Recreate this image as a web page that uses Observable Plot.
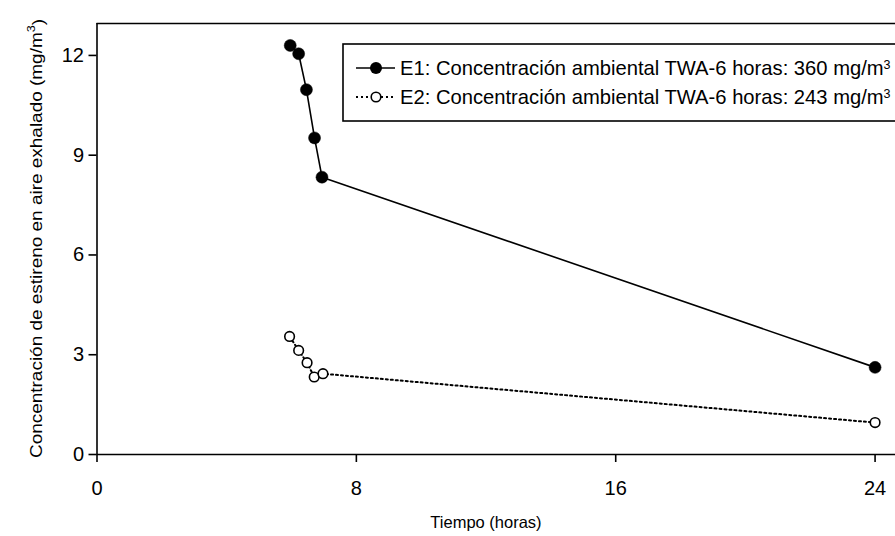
<!DOCTYPE html>
<html><head><meta charset="utf-8">
<script src="https://cdn.jsdelivr.net/npm/d3@7"></script>
<script src="https://cdn.jsdelivr.net/npm/@observablehq/plot@0.6"></script>
<style>body{margin:0;background:#fff;overflow:hidden}</style>
</head><body><div id="chart"></div>
<script>
// Data
const e1Hours = [5.96, 6.22, 6.46, 6.71, 6.94, 24];
const e1Conc  = [12.30, 12.05, 10.97, 9.52, 8.34, 2.62];
const e2Hours = [5.94, 6.22, 6.48, 6.70, 6.97, 24];
const e2Conc  = [3.55, 3.13, 2.76, 2.33, 2.43, 0.96];
const xTicks = [0, 8, 16, 24];
const yTicks = [0, 3, 6, 9, 12];
const xDomain = [0, 24.63];
const yDomain = [0, 12.96];
const legendLabels = [
  ["E1: Concentración ambiental TWA-6 horas: 360 mg/m", "3"],
  ["E2: Concentración ambiental TWA-6 horas: 243 mg/m", "3"]
];
const yTitle = ["Concentración de estireno en aire exhalado (mg/m", "3", ")"];
const xTitle = "Tiempo (horas)";

const e1 = e1Hours.map((h, i) => ({h, c: e1Conc[i]}));
const e2 = e2Hours.map((h, i) => ({h, c: e2Conc[i]}));

const font = "'Liberation Sans', Arial, Helvetica, sans-serif";
const W = 895, H = 536, mL = 96.5, mT = 23, mB = 82, mR = 0;

const svg = Plot.plot({
  width: W, height: H,
  marginLeft: mL, marginTop: mT, marginBottom: mB, marginRight: mR,
  style: {fontFamily: font, fontSize: "20px", color: "#000", background: "#fff", overflow: "visible"},
  x: {domain: xDomain, ticks: xTicks, tickSize: 8, tickPadding: 18, label: null, tickFormat: d => String(d)},
  y: {domain: yDomain, ticks: yTicks, tickSize: 8, tickPadding: 5, label: null, tickFormat: d => String(d)},
  marks: [
    Plot.ruleX([xDomain[0]], {stroke: "#000", strokeWidth: 1.6}),
    Plot.ruleY([yDomain[0]], {stroke: "#000", strokeWidth: 1.6}),
    Plot.ruleY([yDomain[1]], {stroke: "#000", strokeWidth: 1.6}),
    Plot.line(e2, {x: "h", y: "c", stroke: "#000", strokeWidth: 2, strokeDasharray: "2,3"}),
    Plot.line(e1, {x: "h", y: "c", stroke: "#000", strokeWidth: 1.6}),
    Plot.dot(e1, {x: "h", y: "c", r: 6, fill: "#000", stroke: "#000", strokeWidth: 0.5}),
    Plot.dot(e2, {x: "h", y: "c", r: 4.8, fill: "#fff", stroke: "#000", strokeWidth: 1.6})
  ]
});

const s = d3.select(svg);
s.selectAll("g[aria-label$='tick'] path, g[aria-label$='axis'] path")
  .attr("stroke-width", 1.6);
s.selectAll("g[aria-label$='tick label'] text, g[aria-label$='axis'] text")
  .attr("font-size", 20).style("font-size", "20px");

// Axis titles
const ty = s.append("text")
  .attr("transform", `translate(37,${(mT + H - mB) / 2}) rotate(-90) scale(1.15,1)`)
  .attr("text-anchor", "middle").attr("dominant-baseline", "middle")
  .attr("font-size", 16.5).attr("font-family", font).attr("fill", "#000");
ty.append("tspan").text(yTitle[0]);
ty.append("tspan").attr("dy", "-0.45em").attr("font-size", 11).text(yTitle[1]);
ty.append("tspan").attr("dy", "0.45em").text(yTitle[2]);

s.append("text")
  .attr("x", 486).attr("y", 528)
  .attr("text-anchor", "middle").attr("font-size", 16.5).attr("font-family", font).attr("fill", "#000")
  .text(xTitle);

// Legend
const lg = s.append("g").attr("text-anchor", "start");
lg.append("rect").attr("x", 343).attr("y", 44).attr("width", 600).attr("height", 77)
  .attr("fill", "#fff").attr("stroke", "#000").attr("stroke-width", 1.6);
const rows = [68, 97];
lg.append("line").attr("x1", 356).attr("x2", 395).attr("y1", rows[0]).attr("y2", rows[0]).attr("stroke", "#000").attr("stroke-width", 1.6);
lg.append("circle").attr("cx", 376).attr("cy", rows[0]).attr("r", 6).attr("fill", "#000");
lg.append("line").attr("x1", 356).attr("x2", 396).attr("y1", rows[1]).attr("y2", rows[1]).attr("stroke", "#000").attr("stroke-width", 2).attr("stroke-dasharray", "2,3");
lg.append("circle").attr("cx", 376).attr("cy", rows[1]).attr("r", 4.8).attr("fill", "#fff").attr("stroke", "#000").attr("stroke-width", 1.6);
legendLabels.forEach((lab, i) => {
  const t = lg.append("text").attr("x", 400).attr("y", rows[i] + 7)
    .attr("text-anchor", "start")
    .attr("font-size", 20.2).attr("font-family", font).attr("fill", "#000");
  t.append("tspan").text(lab[0]);
  t.append("tspan").attr("dy", "-0.5em").attr("font-size", 12.5).text(lab[1]);
});

document.getElementById("chart").appendChild(svg);
</script>
</body></html>
